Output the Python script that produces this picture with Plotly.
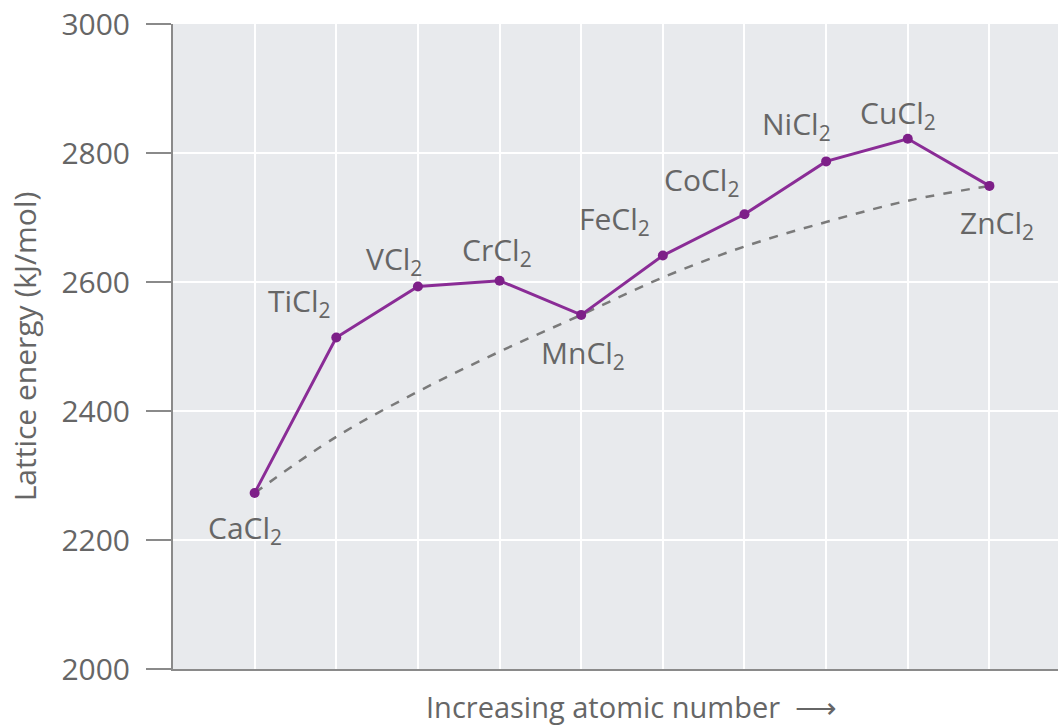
import plotly.graph_objects as go

compounds = ["CaCl", "TiCl", "VCl", "CrCl", "MnCl", "FeCl", "CoCl", "NiCl", "CuCl", "ZnCl"]
positions = [1, 2, 3, 4, 5, 6, 7, 8, 9, 10]
lattice_energy = [2273, 2514, 2593, 2602, 2549, 2641, 2705, 2787, 2822, 2749]
expected_trend = [2273, 2360, 2430, 2492, 2549, 2607, 2655, 2693, 2726, 2749]
y_ticks = [2000, 2200, 2400, 2600, 2800, 3000]

# label offsets in pixels (dx, dy), dy positive = up
label_offsets = {
    "CaCl": (-10, -36), "TiCl": (-37, 35), "VCl": (-24, 27), "CrCl": (-3, 30),
    "MnCl": (2, -39), "FeCl": (-48, 36), "CoCl": (-43, 33), "NiCl": (-30, 36),
    "CuCl": (-10, 25), "ZnCl": (8, -38),
}

text_color = "#666666"
font_family = "Open Sans"
fsize = 30

fig = go.Figure()

fig.add_trace(go.Scatter(
    x=positions, y=expected_trend, mode="lines", line_shape="spline",
    line=dict(color="#7a7a7a", width=2.5, dash="dash"), hoverinfo="skip",
))
fig.add_trace(go.Scatter(
    x=positions, y=lattice_energy, mode="lines+markers",
    line=dict(color="#8a2c96", width=3),
    marker=dict(color="#7d1f88", size=10),
))

for name, xv, yv in zip(compounds, positions, lattice_energy):
    dx, dy = label_offsets[name]
    fig.add_annotation(
        x=xv, y=yv, xref="x", yref="y", text=name + "<sub>2</sub>",
        showarrow=False, xshift=dx, yshift=dy,
        font=dict(family=font_family, size=fsize, color=text_color),
    )

# x axis title, a little right of centre like the original
fig.add_annotation(
    x=0.5, y=0, xref="paper", yref="paper", xshift=16, yshift=-37,
    text="Increasing atomic number  ⟶", showarrow=False, yanchor="middle",
    font=dict(family=font_family, size=29, color=text_color),
)

fig.update_layout(
    width=1058, height=728,
    margin=dict(l=173, r=0, t=24, b=59),
    paper_bgcolor="white", plot_bgcolor="#e8eaed",
    showlegend=False,
    font=dict(family=font_family, color=text_color),
)
fig.update_xaxes(
    range=[0, 10.84], tickvals=positions, showticklabels=False, ticks="",
    showgrid=True, gridcolor="white", gridwidth=2, zeroline=False,
    showline=True, linecolor="#8a8a8a", linewidth=2, automargin=False,
)
fig.update_yaxes(
    range=[2000, 3000], tickvals=y_ticks, ticks="outside", ticklen=25,
    tickcolor="#8a8a8a", tickwidth=2, ticklabelstandoff=10,
    ticklabeloverflow="allow",
    tickfont=dict(size=30, color=text_color),
    showgrid=True, gridcolor="white", gridwidth=2, zeroline=False,
    showline=True, linecolor="#8a8a8a", linewidth=2, automargin=False,
    title=dict(text="Lattice energy (kJ/mol)", font=dict(size=30, color=text_color), standoff=16),
)

# drop the browser's default 8px body margin so the figure fills the window
fig.write_html("out.html", config={"displayModeBar": False},
               post_script="document.body.style.margin = '0';")
